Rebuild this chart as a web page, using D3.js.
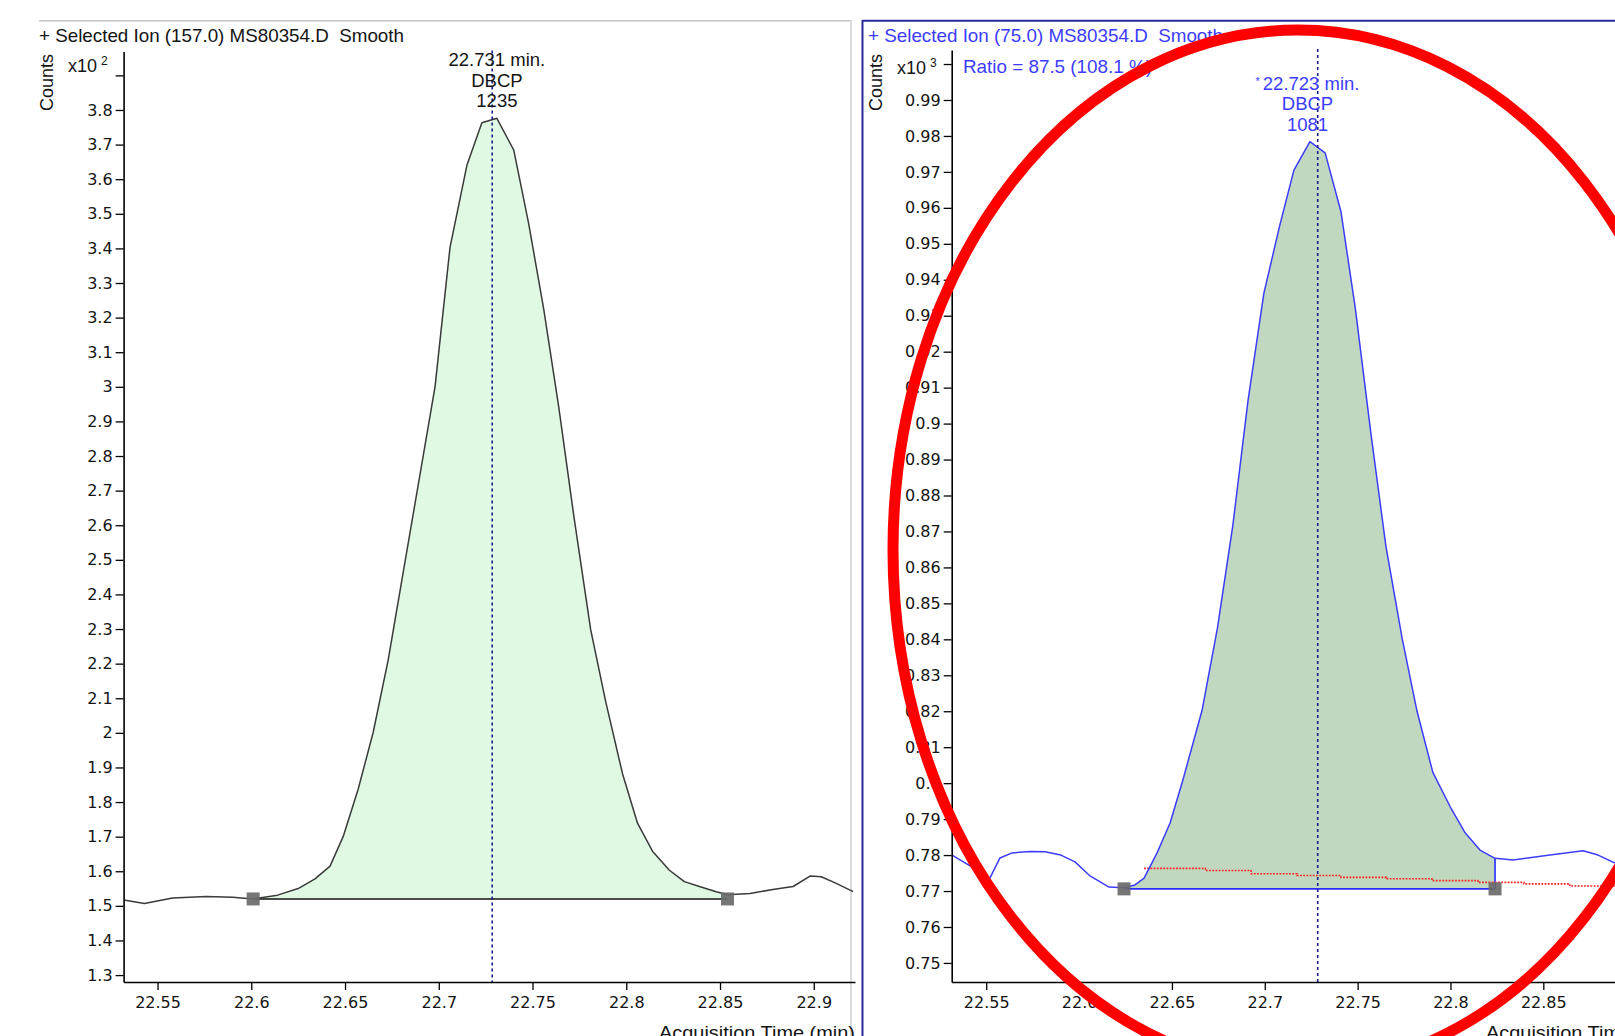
<!DOCTYPE html>
<html><head><meta charset="utf-8">
<script src="https://cdn.jsdelivr.net/npm/d3@7"></script>
<style>
body{margin:0;background:#fff;}
svg{display:block;font-family:"Liberation Sans",Arial,sans-serif;}
text{white-space:pre;}
</style>
</head><body>
<svg id="c" width="1615" height="1036"></svg>
<script>
// ---------------- DATA ----------------
const timeTicks = [22.55, 22.6, 22.65, 22.7, 22.75, 22.8, 22.85, 22.9];
const leftYTicks = [1.3,1.4,1.5,1.6,1.7,1.8,1.9,2,2.1,2.2,2.3,2.4,2.5,2.6,2.7,2.8,2.9,3,3.1,3.2,3.3,3.4,3.5,3.6,3.7,3.8,3.9];
const rightYTicks = [0.75,0.76,0.77,0.78,0.79,0.8,0.81,0.82,0.83,0.84,0.85,0.86,0.87,0.88,0.89,0.9,0.91,0.92,0.93,0.94,0.95,0.96,0.97,0.98,0.99,1.0];

// Ion 157.0 (counts x10^2)
const leftTimes  = [22.532,22.543,22.558,22.576,22.590,22.601,22.614,22.625,22.634,22.642,22.649,22.657,22.665,22.673,22.681,22.690,22.698,22.706,22.715,22.723,22.731,22.740,22.748,22.756,22.764,22.772,22.781,22.789,22.798,22.806,22.814,22.823,22.831,22.839,22.848,22.854,22.866,22.879,22.889,22.898,22.904,22.912,22.921];
const leftCounts = [1.517,1.507,1.523,1.527,1.525,1.520,1.531,1.550,1.578,1.615,1.700,1.837,2.001,2.210,2.463,2.747,3.000,3.403,3.640,3.763,3.776,3.684,3.470,3.224,2.941,2.628,2.299,2.091,1.882,1.739,1.658,1.603,1.570,1.556,1.541,1.532,1.536,1.548,1.556,1.586,1.584,1.565,1.541];
const leftBaseStart = 22.601, leftBaseEnd = 22.854, leftBaseValue = 1.52;

// Ion 75.0 (counts x10^3)
const rightTimes  = [22.5316,22.5413,22.5515,22.5574,22.5639,22.5736,22.5816,22.5902,22.5978,22.6059,22.6161,22.6242,22.6301,22.6350,22.6420,22.6490,22.6559,22.6662,22.6745,22.6828,22.6909,22.6995,22.7080,22.7157,22.7243,22.7325,22.7410,22.7488,22.7571,22.7652,22.7740,22.7819,22.7905,22.7998,22.8079,22.8159,22.8240,22.8337,22.8536,22.8714,22.8795,22.8886];
const rightCounts = [0.7800,0.7770,0.7731,0.7792,0.7806,0.7810,0.7809,0.7800,0.7781,0.7742,0.7711,0.7709,0.7717,0.7736,0.7806,0.7889,0.8009,0.8202,0.8431,0.8717,0.9061,0.9362,0.9550,0.9705,0.9784,0.9753,0.9590,0.9319,0.8975,0.8660,0.8402,0.8202,0.8030,0.7935,0.7862,0.7814,0.7791,0.7786,0.7800,0.7812,0.7800,0.7778];
const rightBaseStart = 22.6242, rightBaseEnd = 22.8240, rightBaseValue = 0.7706;

// qualifier expected level (red dotted step line)
const qualTimes  = [22.635,22.668,22.6926,22.7173,22.741,22.7655,22.790,22.8148,22.8396,22.8643,22.8886];
const qualCounts = [0.7763,0.7757,0.7748,0.7743,0.7738,0.7734,0.7729,0.7724,0.7720,0.7714,0.7714];

const expectedRT = 22.7285;
const leftPeak  = {rt:"22.731", name:"DBCP", area:"1235", t:22.731};
const rightPeak = {rt:"22.723", name:"DBCP", area:"1081", t:22.723};

// ---------------- DRAW ----------------
const svg = d3.select("#c");
const TXT = "#141414";
const BLUE = "#3c3cff";

// panel frames
svg.append("line").attr("x1",39).attr("x2",851).attr("y1",20.7).attr("y2",20.7).attr("stroke","#c4c4c4").attr("stroke-width",1.5);
svg.append("line").attr("x1",851).attr("x2",851).attr("y1",20).attr("y2",1036).attr("stroke","#d0d0d0").attr("stroke-width",1.5);
svg.append("line").attr("x1",862.5).attr("x2",1615).attr("y1",20.7).attr("y2",20.7).attr("stroke","#2a2a9a").attr("stroke-width",2);
svg.append("line").attr("x1",862.5).attr("x2",862.5).attr("y1",20).attr("y2",1036).attr("stroke","#2a2a9a").attr("stroke-width",2);

function panel(cfg){
  const g = svg.append("g");
  const x = d3.scaleLinear().domain(cfg.xDomain).range(cfg.xRange);
  const y = d3.scaleLinear().domain(cfg.yDomain).range(cfg.yRange);
  const id = "clip"+cfg.key;
  svg.append("clipPath").attr("id",id).append("rect")
    .attr("x",cfg.xRange[0]).attr("y",cfg.yRange[1]-5)
    .attr("width",cfg.xRange[1]-cfg.xRange[0]).attr("height",cfg.yRange[0]-cfg.yRange[1]+5);
  const plot = g.append("g").attr("clip-path","url(#"+id+")");

  const pts = cfg.times.map((t,i)=>({t, v:cfg.values[i]}));
  const inPeak = pts.filter(p=>p.t>=cfg.baseStart-1e-6 && p.t<=cfg.baseEnd+1e-6);
  // fill
  plot.append("path").datum(inPeak)
    .attr("d", d3.area().x(d=>x(d.t)).y0(y(cfg.baseValue)).y1(d=>y(d.v)))
    .attr("fill",cfg.fill).attr("stroke","none");
  // baseline
  plot.append("line").attr("x1",x(cfg.baseStart)).attr("x2",x(cfg.baseEnd))
    .attr("y1",y(cfg.baseValue)).attr("y2",y(cfg.baseValue))
    .attr("stroke",cfg.baseColor).attr("stroke-width",1.6);
  if(cfg.endDrop){
    const last = inPeak[inPeak.length-1];
    plot.append("line").attr("x1",x(cfg.baseEnd)).attr("x2",x(cfg.baseEnd))
      .attr("y1",y(cfg.baseValue)).attr("y2",y(last.v))
      .attr("stroke",cfg.baseColor).attr("stroke-width",1.6);
  }
  // qualifier line
  if(cfg.qual){
    const q = cfg.qual.t.map((t,i)=>({t, v:cfg.qual.v[i]}));
    plot.append("path").datum(q)
      .attr("d", d3.line().x(d=>x(d.t)).y(d=>y(d.v)).curve(d3.curveStepAfter))
      .attr("fill","none").attr("stroke","#ff2020").attr("stroke-width",1.6)
      .attr("stroke-dasharray","1.8,1.4");
  }
  // curve
  plot.append("path").datum(pts)
    .attr("d", d3.line().x(d=>x(d.t)).y(d=>y(d.v)).curve(d3.curveLinear))
    .attr("fill","none").attr("stroke",cfg.lineColor).attr("stroke-width",1.5)
    .attr("stroke-linejoin","round");
  // expected RT line
  g.append("line").attr("x1",x(expectedRT)).attr("x2",x(expectedRT))
    .attr("y1",cfg.yRange[1]-1).attr("y2",cfg.yRange[0])
    .attr("stroke","#1c1c8c").attr("stroke-width",1.6).attr("stroke-dasharray","3,3");
  // markers
  [cfg.baseStart, cfg.baseEnd].forEach(t=>{
    g.append("rect").attr("x",x(t)-6.5).attr("y",y(cfg.baseValue)-6.5)
      .attr("width",13).attr("height",13).attr("fill","#6a6a6a").attr("opacity",0.92);
  });

  // axes
  const ya = g.append("g").attr("transform",`translate(${cfg.xRange[0]},0)`)
    .call(d3.axisLeft(y).tickValues(cfg.yTicks).tickSize(8).tickPadding(3).tickSizeOuter(0)
      .tickFormat(d=> cfg.hideTick.includes(d) ? "" : String(d)));
  const xt = timeTicks.filter(t=>x(t)<=cfg.xRange[1]);
  const xa = g.append("g").attr("transform",`translate(0,${cfg.yRange[0]})`)
    .call(d3.axisBottom(x).tickValues(xt).tickSize(8).tickPadding(7).tickSizeOuter(0)
      .tickFormat(d=>String(d)));
  [ya,xa].forEach(a=>{
    a.select(".domain").attr("stroke","#000").attr("stroke-width",1.6);
    a.selectAll(".tick line").attr("stroke","#000").attr("stroke-width",1.3);
    a.selectAll(".tick text").attr("fill",TXT)
      .style("font-family","'DejaVu Sans',sans-serif").style("font-size","16px");
  });

  // titles
  g.append("text").attr("x",cfg.titleX).attr("y",41.5).attr("fill",cfg.titleColor)
    .style("font-size","18.5px").attr("textLength",cfg.titleLen).attr("lengthAdjust","spacingAndGlyphs")
    .text(cfg.title);
  g.append("text").attr("transform",`translate(${cfg.countsX},82.5) rotate(-90)`)
    .attr("text-anchor","middle").attr("fill",TXT).style("font-size","18px").text("Counts");
  const mult = g.append("text").attr("x",cfg.multX).attr("y",cfg.multY).attr("fill",TXT).style("font-size","18px");
  mult.append("tspan").text("x10");
  mult.append("tspan").attr("dx",4).attr("dy",-7).style("font-size","12px").text(cfg.exp);
  g.append("text").attr("x",cfg.axTitleX).attr("y",1039).attr("text-anchor",cfg.axTitleAnchor)
    .attr("fill",TXT).style("font-size","18.5px").attr("textLength",196).attr("lengthAdjust","spacingAndGlyphs")
    .text("Acquisition Time (min)");

  // peak label
  const pk = cfg.peak;
  const lx = x(pk.t);
  const l1 = g.append("text").attr("x",lx).attr("y",cfg.peakY).attr("text-anchor","middle")
    .attr("fill",cfg.peakColor).style("font-size","18.5px");
  if(cfg.star){ l1.append("tspan").style("font-size","11px").attr("dy",-5).text("* "); l1.append("tspan").attr("dy",5).text(pk.rt+" min."); }
  else l1.text(pk.rt+" min.");
  g.append("text").attr("x",lx).attr("y",cfg.peakY+20.5).attr("text-anchor","middle")
    .attr("fill",cfg.peakColor).style("font-size","18.5px").text(pk.name);
  g.append("text").attr("x",lx).attr("y",cfg.peakY+41).attr("text-anchor","middle")
    .attr("fill",cfg.peakColor).style("font-size","18.5px").text(pk.area);
  return {g,x,y};
}

panel({
  key:"L", xDomain:[22.5319,22.922], xRange:[123.6,855],
  yDomain:[1.28,3.969], yRange:[982,51.5],
  times:leftTimes, values:leftCounts,
  baseStart:leftBaseStart, baseEnd:leftBaseEnd, baseValue:leftBaseValue,
  fill:"#e0f9e2", baseColor:"#111", lineColor:"#3a3a3a", endDrop:false,
  yTicks:leftYTicks, hideTick:[3.9],
  title:"+ Selected Ion (157.0) MS80354.D  Smooth", titleX:39, titleLen:365, titleColor:TXT,
  countsX:53, multX:68, multY:71.5, exp:"2",
  axTitleX:855, axTitleAnchor:"end",
  peak:leftPeak, peakY:66, peakColor:TXT, star:false
});
const R = panel({
  key:"R", xDomain:[22.5314,22.8886], xRange:[951.7,1615],
  yDomain:[0.7447,1.0039], yRange:[982,50],
  times:rightTimes, values:rightCounts,
  baseStart:rightBaseStart, baseEnd:rightBaseEnd, baseValue:rightBaseValue,
  fill:"#c0d8c0", baseColor:"#2a2aff", lineColor:BLUE, endDrop:true,
  qual:{t:qualTimes, v:qualCounts},
  yTicks:rightYTicks, hideTick:[1.0],
  title:"+ Selected Ion (75.0) MS80354.D  Smooth", titleX:868, titleLen:355, titleColor:BLUE,
  countsX:881.5, multX:897, multY:73.5, exp:"3",
  axTitleX:1486, axTitleAnchor:"start",
  peak:rightPeak, peakY:89.5, peakColor:BLUE, star:true
});
R.g.append("text").attr("x",963).attr("y",73).attr("fill",BLUE).style("font-size","18.5px")
  .attr("textLength",189).attr("lengthAdjust","spacingAndGlyphs").text("Ratio = 87.5 (108.1 %)");

// red hand-drawn highlight ellipse
svg.append("ellipse").attr("cx",1298).attr("cy",550).attr("rx",405).attr("ry",520)
  .attr("fill","none").attr("stroke","#ff0000").attr("stroke-width",11);
</script>
</body></html>
